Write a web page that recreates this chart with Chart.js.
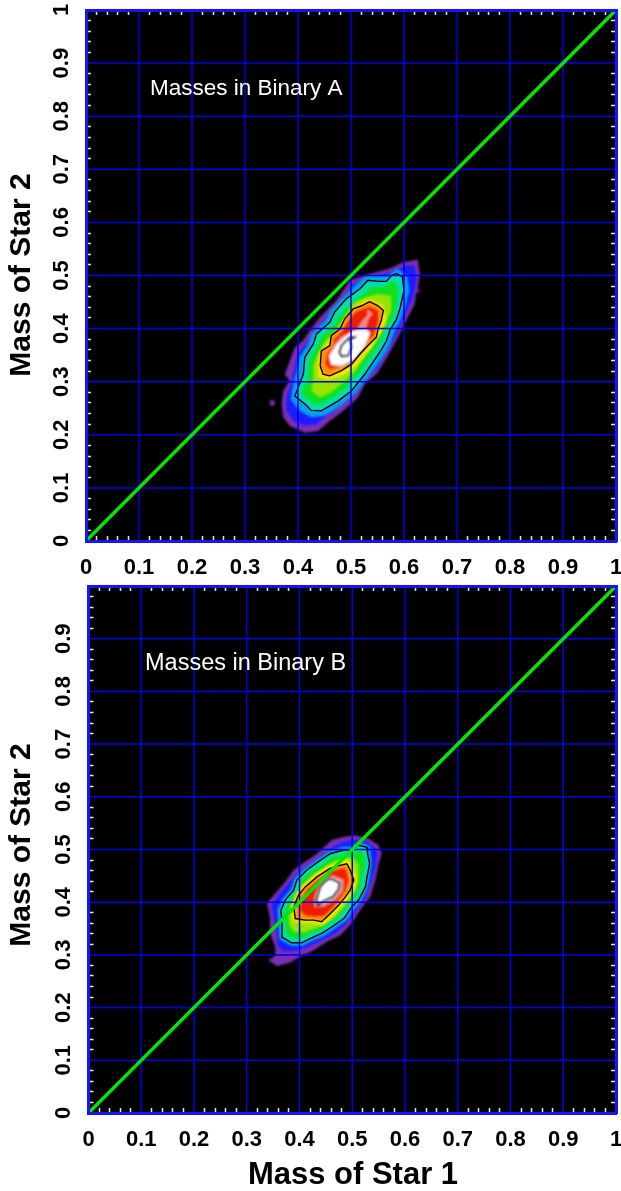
<!DOCTYPE html>
<html>
<head>
<meta charset="utf-8">
<style>
  html, body { margin: 0; padding: 0; background: #fff; }
  canvas { position: absolute; left: 0; }
  #chartA { top: 0; }
  #chartB { top: 582px; }
</style>
<script src="https://cdn.jsdelivr.net/npm/chart.js@4/dist/chart.umd.min.js"></script>
</head>
<body>
<canvas id="chartA" width="621" height="582"></canvas>
<canvas id="chartB" width="621" height="609"></canvas>
<script>
// axis values
const gridValues = [0.1, 0.2, 0.3, 0.4, 0.5, 0.6, 0.7, 0.8, 0.9];
const labelsXA = [0, 0.1, 0.2, 0.3, 0.4, 0.5, 0.6, 0.7, 0.8, 0.9, 1];
const labelsYA = [0, 0.1, 0.2, 0.3, 0.4, 0.5, 0.6, 0.7, 0.8, 0.9, 1];
const labelsXB = [0, 0.1, 0.2, 0.3, 0.4, 0.5, 0.6, 0.7, 0.8, 0.9, 1];
const labelsYB = [0, 0.1, 0.2, 0.3, 0.4, 0.5, 0.6, 0.7, 0.8, 0.9];
const equalX = [0, 1];
const equalY = [0, 1];

// density levels of binary A, outermost first, as [mass 1, mass 2]
const aPurple = [[.626,.530],[.630,.503],[.626,.472],[.635,.472],[.623,.467],[.620,.446],[.604,.415],[.589,.384],[.573,.355],[.560,.333],[.548,.314],[.526,.296],[.513,.270],[.485,.245],[.460,.226],[.438,.207],[.413,.204],[.384,.217],[.372,.233],[.369,.258],[.372,.283],[.384,.302],[.375,.314],[.387,.346],[.394,.365],[.409,.377],[.422,.396],[.441,.421],[.472,.453],[.498,.491],[.535,.503],[.573,.513],[.598,.525]];
const aSpeck = [[.347,.265],[.356,.265],[.356,.255],[.347,.255]];
const aBlue = [[.620,.519],[.624,.491],[.617,.459],[.604,.431],[.592,.402],[.576,.371],[.560,.349],[.551,.327],[.529,.308],[.510,.283],[.482,.258],[.457,.239],[.435,.220],[.413,.217],[.391,.226],[.379,.245],[.378,.270],[.387,.296],[.394,.327],[.400,.352],[.416,.371],[.432,.393],[.451,.418],[.482,.450],[.504,.484],[.539,.497],[.576,.506],[.604,.519]];
const aAzure = [[.587,.513],[.606,.500],[.610,.472],[.603,.443],[.593,.415],[.581,.390],[.573,.368],[.560,.346],[.547,.327],[.532,.308],[.510,.280],[.482,.255],[.451,.236],[.425,.233],[.403,.245],[.386,.267],[.391,.296],[.397,.318],[.402,.346],[.419,.371],[.425,.390],[.451,.415],[.463,.437],[.488,.462],[.510,.484],[.529,.500],[.551,.500],[.570,.500]];
const aCyan = [[.586,.504],[.597,.497],[.600,.472],[.593,.440],[.586,.418],[.573,.396],[.567,.377],[.554,.355],[.539,.333],[.526,.314],[.501,.283],[.476,.264],[.444,.245],[.425,.246],[.413,.258],[.394,.273],[.403,.296],[.410,.314],[.413,.346],[.429,.371],[.435,.390],[.460,.412],[.469,.431],[.491,.456],[.517,.475],[.532,.491],[.551,.489],[.567,.489],[.576,.500]];
const aGreen = [[.583,.491],[.589,.472],[.586,.440],[.576,.415],[.564,.396],[.557,.377],[.545,.358],[.529,.336],[.517,.318],[.491,.289],[.466,.270],[.441,.258],[.429,.258],[.416,.270],[.406,.277],[.413,.296],[.419,.314],[.422,.343],[.435,.365],[.444,.384],[.466,.406],[.479,.424],[.498,.446],[.523,.465],[.539,.478],[.561,.478]];
const aLime = [[.576,.462],[.576,.434],[.564,.406],[.551,.384],[.539,.365],[.523,.343],[.507,.318],[.485,.299],[.463,.280],[.441,.270],[.425,.283],[.429,.308],[.429,.333],[.441,.358],[.451,.377],[.473,.399],[.488,.421],[.501,.446],[.526,.459],[.551,.465]];
const aYellow = [[.535,.456],[.561,.443],[.567,.418],[.556,.390],[.540,.366],[.524,.346],[.505,.325],[.484,.311],[.457,.303],[.438,.309],[.437,.333],[.440,.355],[.455,.374],[.474,.396],[.488,.420],[.505,.440],[.523,.451]];
const aOrange = [[.535,.451],[.551,.443],[.561,.434],[.557,.415],[.551,.399],[.548,.384],[.532,.368],[.517,.352],[.501,.333],[.482,.321],[.460,.311],[.447,.314],[.442,.330],[.444,.358],[.460,.368],[.463,.387],[.479,.399],[.488,.418],[.504,.437],[.520,.443]];
const aRed = [[.534,.441],[.551,.434],[.551,.412],[.542,.387],[.526,.374],[.510,.355],[.495,.340],[.476,.328],[.460,.324],[.452,.333],[.455,.352],[.466,.365],[.469,.380],[.485,.396],[.495,.415],[.509,.431]];
const aPink = [[.530,.437],[.542,.429],[.534,.418],[.529,.401],[.538,.393],[.527,.362],[.507,.339],[.480,.326],[.460,.331],[.456,.349],[.467,.370],[.481,.386],[.510,.398],[.520,.415],[.529,.424]];
const aWhite = [[.527,.399],[.536,.392],[.527,.369],[.507,.343],[.483,.330],[.463,.332],[.459,.349],[.473,.370],[.486,.383],[.503,.396]];
const aPeak = [[.498,.384],[.507,.384],[.498,.379],[.501,.365],[.495,.349],[.482,.348],[.478,.355],[.482,.368],[.491,.377]];

// density levels of binary B
const bPurple = [[.506,.527],[.531,.521],[.550,.508],[.556,.492],[.550,.473],[.544,.442],[.534,.410],[.515,.385],[.499,.360],[.477,.337],[.452,.325],[.427,.309],[.401,.296],[.379,.284],[.357,.279],[.341,.290],[.354,.299],[.354,.315],[.344,.341],[.344,.372],[.338,.398],[.351,.413],[.373,.439],[.389,.461],[.411,.477],[.433,.492],[.461,.518],[.484,.524]];
const bBlue = [[.506,.519],[.528,.515],[.544,.502],[.548,.489],[.544,.467],[.535,.435],[.525,.407],[.506,.382],[.490,.360],[.468,.341],[.442,.328],[.414,.314],[.392,.308],[.370,.306],[.358,.318],[.357,.341],[.351,.372],[.347,.394],[.360,.413],[.379,.435],[.395,.454],[.417,.470],[.439,.486],[.468,.508],[.487,.515]];
const bAzure = [[.515,.515],[.534,.506],[.537,.473],[.533,.445],[.529,.426],[.517,.401],[.504,.386],[.489,.365],[.465,.348],[.446,.335],[.430,.329],[.406,.317],[.384,.317],[.362,.329],[.360,.353],[.358,.386],[.368,.407],[.384,.426],[.390,.445],[.410,.465],[.433,.481],[.455,.497],[.482,.505],[.499,.505]];
const bCyan = [[.512,.508],[.528,.504],[.529,.492],[.533,.473],[.528,.448],[.525,.429],[.512,.404],[.499,.391],[.484,.369],[.461,.353],[.442,.341],[.427,.334],[.404,.323],[.385,.323],[.368,.333],[.367,.353],[.365,.385],[.373,.404],[.389,.423],[.395,.442],[.414,.461],[.436,.477],[.458,.492],[.484,.499],[.499,.499]];
const bGreen = [[.512,.500],[.522,.492],[.525,.470],[.518,.445],[.517,.429],[.506,.409],[.493,.396],[.477,.375],[.457,.359],[.438,.347],[.423,.341],[.404,.331],[.387,.331],[.375,.339],[.373,.354],[.372,.382],[.379,.401],[.395,.420],[.401,.439],[.419,.456],[.441,.470],[.461,.485],[.487,.491],[.499,.491]];
const bLime = [[.503,.483],[.512,.470],[.512,.445],[.508,.426],[.496,.407],[.484,.390],[.468,.372],[.449,.358],[.430,.350],[.408,.342],[.389,.344],[.381,.356],[.379,.378],[.385,.397],[.401,.416],[.408,.432],[.427,.451],[.446,.464],[.468,.478],[.487,.485]];
const bYellow = [[.493,.480],[.504,.461],[.509,.442],[.503,.420],[.491,.405],[.478,.390],[.463,.373],[.444,.356],[.425,.360],[.408,.360],[.387,.363],[.384,.392],[.393,.416],[.406,.433],[.430,.454],[.455,.470],[.474,.477]];
const bOrange = [[.490,.473],[.496,.461],[.503,.442],[.496,.423],[.487,.410],[.474,.394],[.458,.378],[.442,.363],[.427,.366],[.411,.366],[.392,.369],[.389,.391],[.398,.413],[.411,.429],[.433,.448],[.458,.464],[.477,.470]];
const bRed = [[.487,.464],[.493,.442],[.487,.423],[.476,.407],[.463,.390],[.447,.375],[.430,.373],[.411,.375],[.401,.385],[.404,.404],[.415,.423],[.436,.442],[.461,.458],[.477,.463]];
const bPink = [[.463,.452],[.485,.443],[.483,.421],[.469,.404],[.447,.391],[.428,.390],[.427,.410],[.436,.433],[.449,.446]];
const bWhite = [[.460,.447],[.478,.440],[.476,.423],[.464,.408],[.445,.398],[.433,.396],[.432,.411],[.439,.431],[.450,.442]];
const bPeak = [[.458,.445],[.476,.437],[.474,.424],[.463,.410],[.446,.402],[.435,.394],[.432,.404],[.439,.429],[.449,.440]];

const levelColors = ['#7a2fb4', '#1c1cff', '#00a0f4', '#00e0a8', '#10e020', '#98e400', '#f4e400', '#ff9000', '#f01c00', '#e88a8a', '#ffffff'];
const BLUR_ORDER = 3;  // datasets above this order are blurred heat levels

function closed(poly) {
    return poly.concat([poly[0]]).map(p => ({ x: p[0], y: p[1] }));
}

function heatDataset(poly, color, order) {
    return { data: closed(poly), showLine: true, fill: 'shape', backgroundColor: color, borderWidth: 0, pointRadius: 0, order: order };
}

function contourDataset(poly) {
    return { data: closed(poly), showLine: true, fill: false, borderColor: '#000', borderWidth: 1.4, pointRadius: 0, order: 2 };
}

function gridDatasets() {
    const sets = [];
    gridValues.forEach(v => {
        sets.push({ data: [{ x: v, y: 0 }, { x: v, y: 1 }], showLine: true, borderColor: '#0000e6', borderWidth: 1.5, pointRadius: 0, order: 1 });
        sets.push({ data: [{ x: 0, y: v }, { x: 1, y: v }], showLine: true, borderColor: '#0000e6', borderWidth: 1.5, pointRadius: 0, order: 1 });
    });
    return sets;
}

function tickText(labels) {
    return value => {
        const v = Math.round(value * 100) / 100;
        return labels.includes(v) ? String(v) : '';
    };
}

function axis(position, size, labels, pad) {
    const isY = position === 'left' || position === 'right';
    return {
        type: 'linear',
        position: position,
        axis: isY ? 'y' : 'x',
        min: 0,
        max: 1,
        afterBuildTicks: s => {
            const t = [];
            for (let i = 0; i <= 50; i++) t.push({ value: i / 50 });
            s.ticks = t;
        },
        afterFit: s => {
            if (isY) s.width = size; else s.height = size;
            s.paddingLeft = s.paddingRight = s.paddingTop = s.paddingBottom = 0;
        },
        border: { display: true, color: '#1414ff', width: 3, z: 2 },
        grid: {
            z: 1,
            drawOnChartArea: false,
            tickLength: -5,
            tickWidth: 1.5,
            tickColor: c => (Math.round(c.tick.value * 50) % 5 === 0 ? 'transparent' : '#e8e8e8')
        },
        ticks: {
            display: !!labels,
            autoSkip: false,
            padding: pad || 0,
            minRotation: isY ? 90 : 0,
            maxRotation: isY ? 90 : 0,
            crossAlign: isY ? 'center' : 'near',
            color: '#000',
            font: { family: '"Liberation Sans"', size: 22, weight: 'bold' },
            callback: labels ? tickText(labels) : () => ''
        }
    };
}

// black plot area and blur for the heat levels
const heatPlugin = {
    id: 'heat',
    beforeDraw(chart) {
        const a = chart.chartArea;
        chart.ctx.fillStyle = '#000';
        chart.ctx.fillRect(a.left, a.top, a.width, a.height);
    },
    beforeDatasetsDraw(chart) {
        chart.ctx.filter = 'blur(1.3px)';
    },
    afterDatasetDraw(chart, args) {
        if (args.meta.order <= BLUR_ORDER) chart.ctx.filter = 'none';
    },
    afterDatasetsDraw(chart) {
        chart.ctx.filter = 'none';
    }
};

// free text: plot annotation and axis captions
const textPlugin = {
    id: 'texts',
    afterDraw(chart, args, opts) {
        const ctx = chart.ctx;
        opts.items.forEach(t => {
            ctx.save();
            ctx.translate(t.x, t.y);
            ctx.rotate(t.rotate || 0);
            ctx.font = t.font;
            ctx.fillStyle = t.color;
            ctx.textAlign = t.align || 'center';
            ctx.textBaseline = 'middle';
            ctx.fillText(t.text, 0, 0);
            ctx.restore();
        });
    }
};

function drawPanel(id, cfg) {
    const levels = cfg.levels.map((poly, i) => heatDataset(poly, levelColors[i], 20 - i));
    const extras = (cfg.extras || []).map(e => heatDataset(e, levelColors[0], 21));
    const contours = cfg.contours.map(contourDataset);
    const equal = {
        data: equalX.map((x, i) => ({ x: x, y: equalY[i] })),
        showLine: true, borderColor: '#00e800', borderWidth: 3.4, pointRadius: 0, order: 0
    };
    new Chart(document.getElementById(id), {
        type: 'scatter',
        data: { datasets: [equal].concat(gridDatasets(), contours, levels, extras) },
        options: {
            responsive: false,
            animation: false,
            layout: { autoPadding: false, padding: cfg.padding },
            scales: {
                x: axis('bottom', cfg.bottomSize, cfg.labelsX, 19),
                y: axis('left', cfg.leftSize, cfg.labelsY, 14),
                x2: axis('top', 0),
                y2: axis('right', 0)
            },
            plugins: {
                legend: { display: false },
                tooltip: { enabled: false },
                texts: { items: cfg.texts }
            }
        },
        plugins: [heatPlugin, textPlugin]
    });
}

drawPanel('chartA', {
    levels: [aPurple, aBlue, aAzure, aCyan, aGreen, aLime, aYellow, aOrange, aRed, aPink, aWhite],
    extras: [aSpeck],
    contours: [aCyan, aOrange, aPeak],
    labelsX: labelsXA,
    labelsY: labelsYA,
    padding: { top: 10, right: 5, left: 0, bottom: 0 },
    bottomSize: 41,
    leftSize: 86,
    texts: [
        { text: 'Masses in Binary A', x: 150, y: 89, align: 'left', color: '#fff', font: '22.5px "Liberation Sans"' },
        { text: 'Mass of Star 2', x: 22, y: 275, rotate: -Math.PI / 2, color: '#000', font: 'bold 30px "Liberation Sans"' }
    ]
});

drawPanel('chartB', {
    levels: [bPurple, bBlue, bAzure, bCyan, bGreen, bLime, bYellow, bOrange, bRed, bPink, bWhite],
    contours: [bCyan, bOrange, bPeak],
    labelsX: labelsXB,
    labelsY: labelsYB,
    padding: { top: 4, right: 5, left: 0, bottom: 0 },
    bottomSize: 78,
    leftSize: 88.5,
    texts: [
        { text: 'Masses in Binary B', x: 145, y: 82, align: 'left', color: '#fff', font: '23.5px "Liberation Sans"' },
        { text: 'Mass of Star 2', x: 22, y: 263, rotate: -Math.PI / 2, color: '#000', font: 'bold 30px "Liberation Sans"' },
        { text: 'Mass of Star 1', x: 353, y: 593, color: '#000', font: 'bold 31px "Liberation Sans"' }
    ]
});
</script>
</body>
</html>
